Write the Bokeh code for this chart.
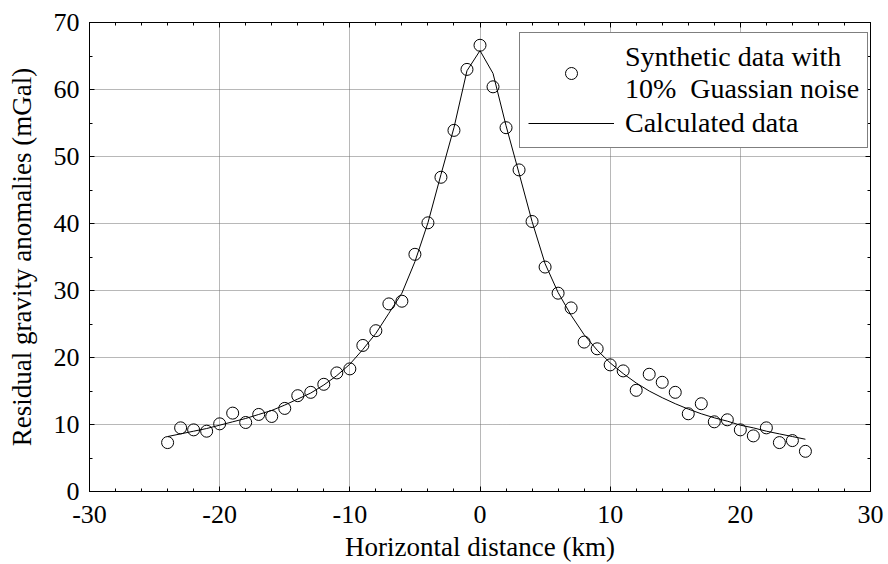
from bokeh.plotting import figure
from bokeh.models import (ColumnDataSource, LinearAxis, SingleIntervalTicker, Range1d,
                          Legend, LegendItem, PrintfTickFormatter)
from bokeh.embed import file_html
from bokeh.resources import INLINE

# ---- data ----
obs_x = list(range(-24, 26))
obs_y = [7.3, 9.5, 9.2, 9.0, 10.1, 11.7, 10.3, 11.5, 11.2, 12.4,
         14.3, 14.8, 16.0, 17.7, 18.3, 21.8, 24.0, 28.0, 28.4, 35.4,
         40.1, 46.9, 53.9, 63.0, 66.6, 60.4, 54.3, 48.0, 40.3, 33.5,
         29.6, 27.4, 22.3, 21.3, 18.9, 18.0, 15.1, 17.5, 16.3, 14.8,
         11.6, 13.1, 10.4, 10.7, 9.2, 8.3, 9.5, 7.3, 7.6, 6.0]

calc_x = list(range(-24, 26))
calc_y = [8.2, 8.6, 9.0, 9.4, 9.9, 10.4, 10.9, 11.5, 12.1, 12.9,
          13.8, 14.7, 15.9, 17.3, 19.0, 21.2, 23.6, 26.6, 29.6, 34.3,
          40.1, 47.3, 54.3, 62.8, 65.8, 62.4, 54.6, 47.5, 40.3, 34.0,
          29.7, 26.3, 23.4, 21.1, 19.2, 17.6, 16.2, 15.0, 14.0, 13.1,
          12.3, 11.6, 11.0, 10.5, 9.9, 9.5, 9.0, 8.6, 8.2, 7.8]

x_title = "Horizontal distance (km)"
y_title = "Residual gravity anomalies (mGal)"
obs_label = "Synthetic data with\n10%  Guassian noise"
calc_label = "Calculated data"

FONT = "Liberation Serif"

p = figure(width=888, height=564, output_backend="svg", toolbar_location=None,
           x_range=Range1d(-30, 30), y_range=Range1d(0, 70),
           min_border_left=89, min_border_right=18, min_border_top=22,
           min_border_bottom=72, x_axis_location=None, y_axis_location=None)
p.background_fill_color = "white"
p.border_fill_color = "white"
p.outline_line_color = "black"
p.outline_line_width = 1

xt = SingleIntervalTicker(interval=10, num_minor_ticks=5)
yt = SingleIntervalTicker(interval=10, num_minor_ticks=2)

def style_axis(ax, show_labels):
    ax.axis_line_color = "black"
    ax.axis_line_width = 1
    ax.major_tick_in = 5
    ax.major_tick_out = 0
    ax.minor_tick_in = 3
    ax.minor_tick_out = 0
    ax.major_tick_line_color = "black"
    ax.minor_tick_line_color = "black"
    if show_labels:
        ax.formatter = PrintfTickFormatter(format="%d")
        ax.major_label_text_font = FONT
        ax.major_label_text_font_size = "26px"
        ax.major_label_text_color = "black"
        ax.axis_label_text_font = FONT
        ax.axis_label_text_font_size = "27px"
        ax.axis_label_text_font_style = "normal"
        ax.axis_label_text_color = "black"
    else:
        ax.major_label_text_font_size = "1px"
        ax.major_label_text_alpha = 0
        ax.major_label_standoff = 0

bx = LinearAxis(ticker=xt, axis_label=x_title)
style_axis(bx, True)
bx.major_label_standoff = 14
bx.axis_label_standoff = 6
p.add_layout(bx, "below")

ly = LinearAxis(ticker=yt, axis_label=y_title)
style_axis(ly, True)
ly.major_label_standoff = 10
ly.axis_label_standoff = 14
p.add_layout(ly, "left")

tx = LinearAxis(ticker=xt)
style_axis(tx, False)
p.add_layout(tx, "above")

ry = LinearAxis(ticker=yt)
style_axis(ry, False)
p.add_layout(ry, "right")

p.xgrid.ticker = xt
p.ygrid.ticker = yt
for g in (p.xgrid, p.ygrid):
    g.grid_line_color = "#707070"
    g.grid_line_dash = "1 1"
    g.grid_line_width = 1

src_obs = ColumnDataSource(dict(x=obs_x, y=obs_y))
src_calc = ColumnDataSource(dict(x=calc_x, y=calc_y))

ln = p.line("x", "y", source=src_calc, line_color="black", line_width=1)
sc = p.scatter("x", "y", source=src_obs, marker="circle", size=12,
               fill_alpha=0, line_color="black", line_width=1)

legend = Legend(items=[LegendItem(label=obs_label, renderers=[sc]),
                       LegendItem(label=calc_label, renderers=[ln])],
                location=(430, 343))
legend.label_text_font = FONT
legend.label_text_font_size = "28px"
legend.label_text_color = "black"
legend.glyph_width = 86
legend.glyph_height = 30
legend.label_standoff = 11
legend.padding = 8
legend.spacing = 2
legend.margin = 0
legend.border_line_color = "black"
legend.border_line_width = 1
legend.background_fill_color = "white"
legend.background_fill_alpha = 1
p.add_layout(legend)

open("out.html", "w").write(file_html(p, INLINE))
